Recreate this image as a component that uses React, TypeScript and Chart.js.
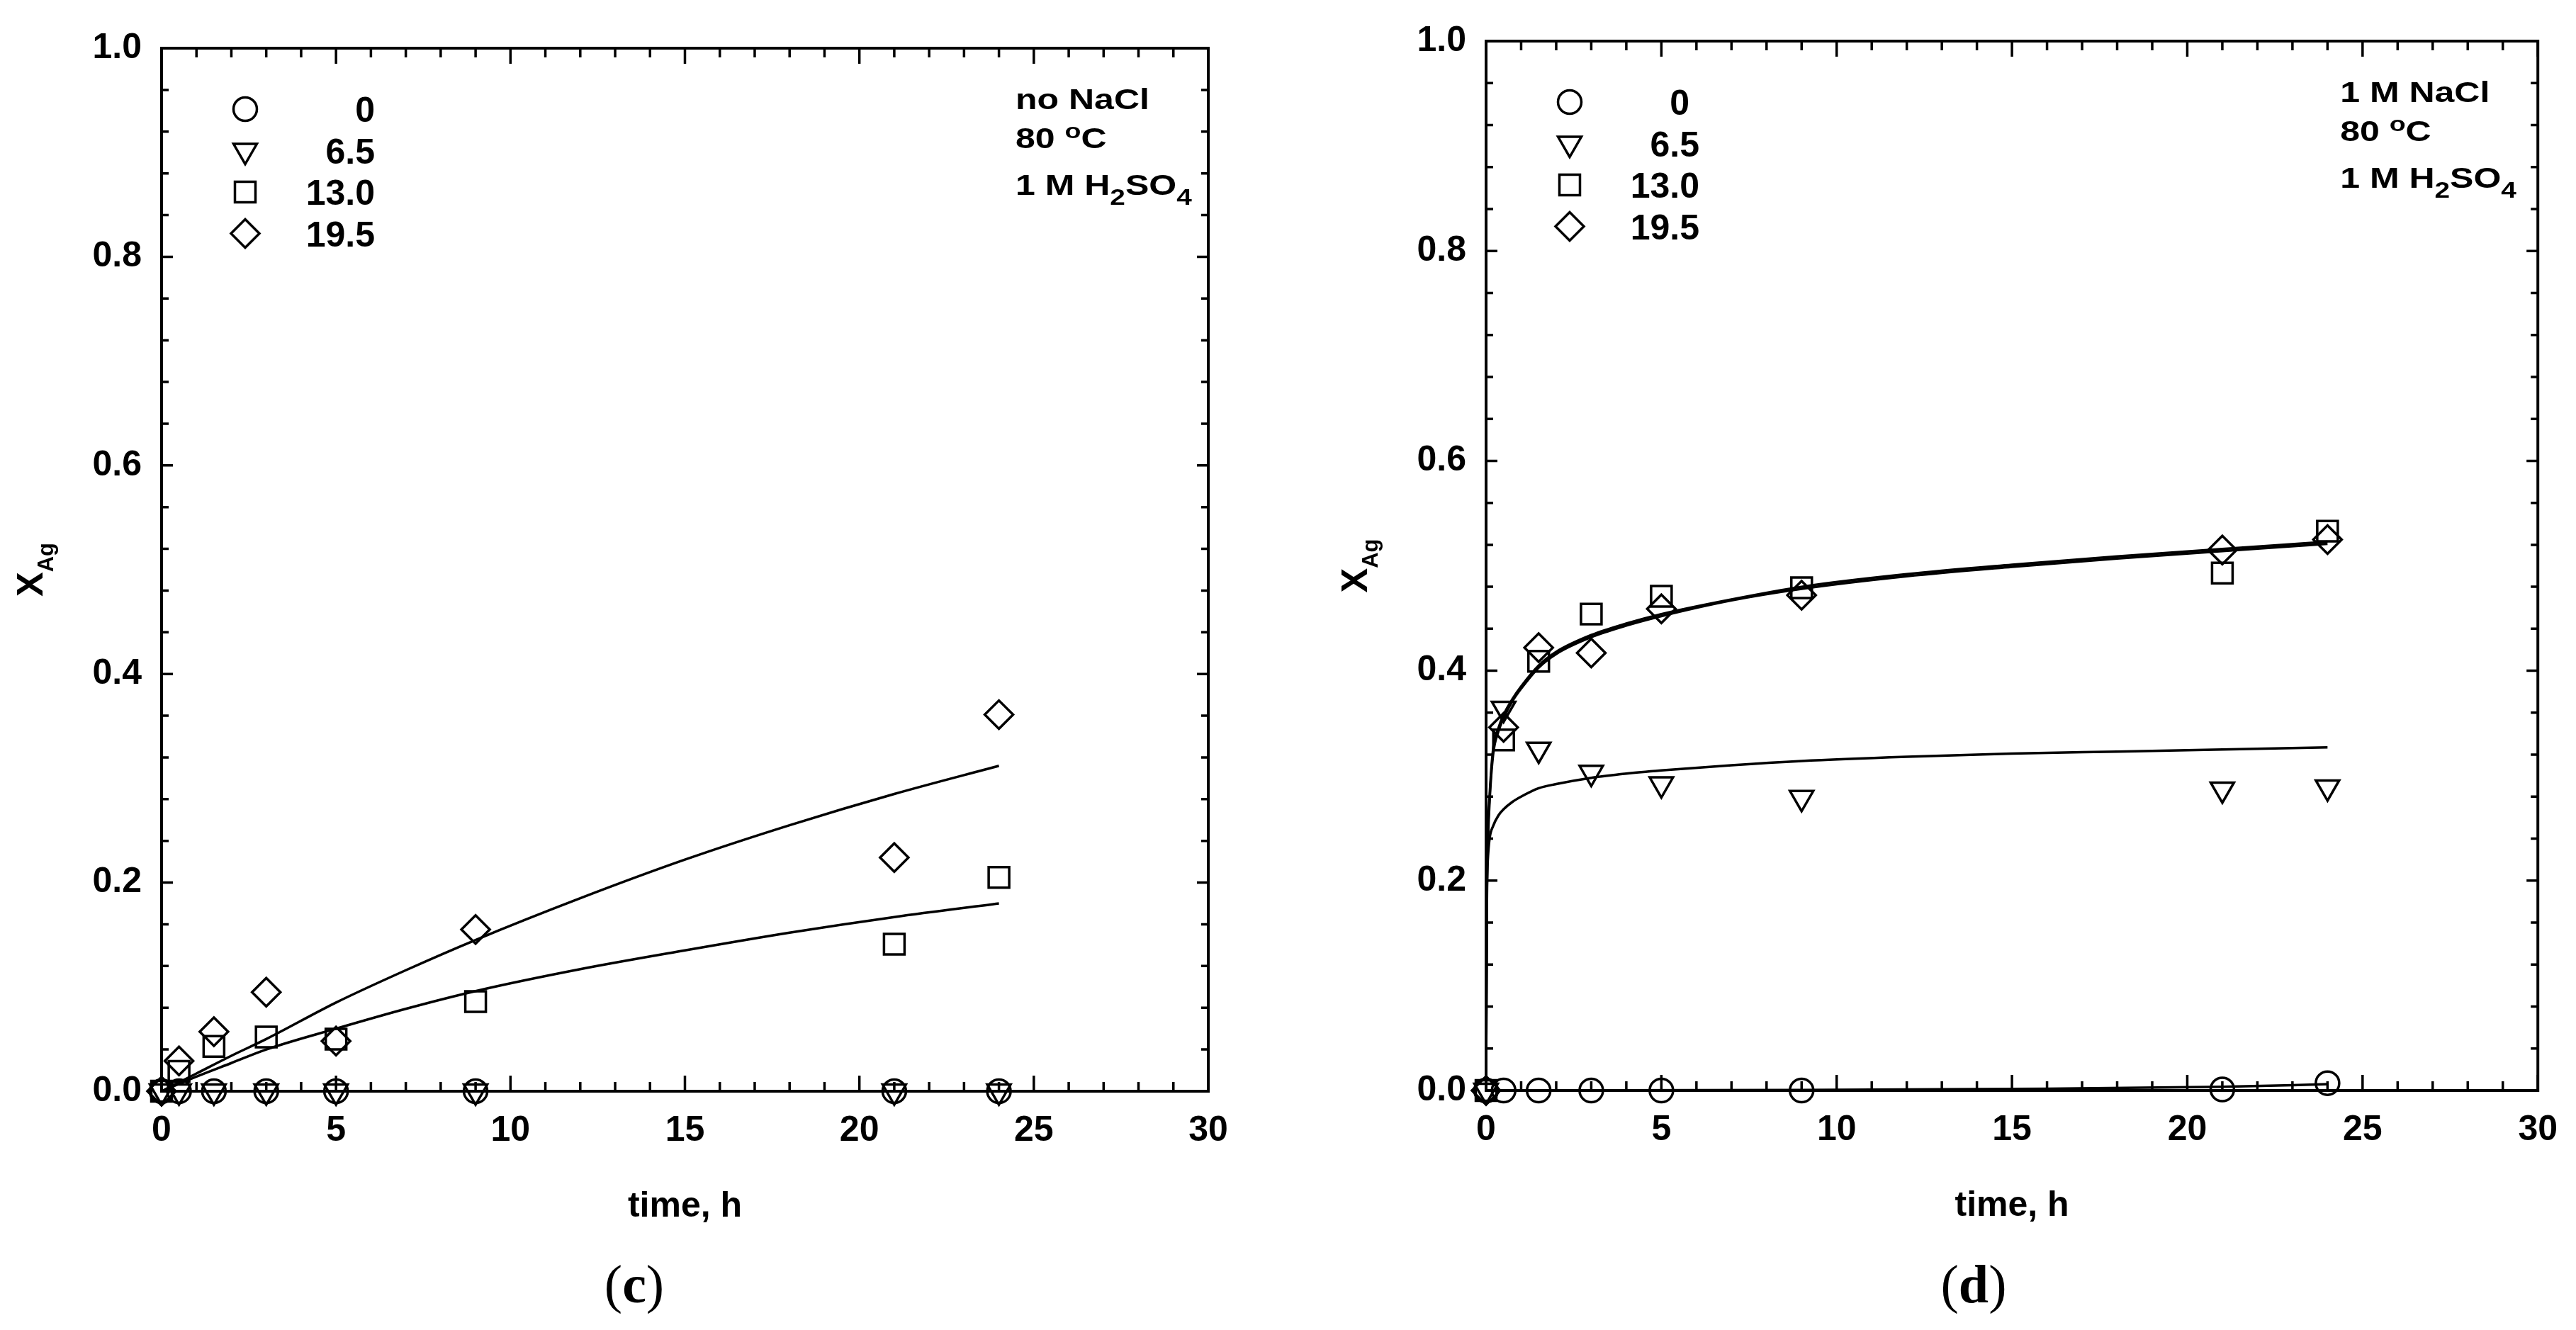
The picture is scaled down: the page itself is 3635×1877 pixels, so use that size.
import React, { useEffect, useRef } from 'react';
import { Chart, registerables } from 'chart.js';
import { drawPoint } from 'chart.js/helpers';

Chart.register(...registerables);

// ---------- data ----------
const sampleTimes = [0, 0.5, 1.5, 3, 5, 9, 21, 24];
const seriesLabels = ['0', '6.5', '13.0', '19.5'];
const xTickValues = [0, 5, 10, 15, 20, 25, 30];
const yTickValues = [0, 0.2, 0.4, 0.6, 0.8, 1.0];

// panel (c): no NaCl
const c_0 = [0, 0, 0, 0, 0, 0, 0, 0];
const c_65 = [0, 0, 0, 0, 0, 0, 0, 0];
const c_130 = [0, 0.019, 0.043, 0.052, 0.05, 0.086, 0.141, 0.205];
const c_195 = [0, 0.029, 0.057, 0.095, 0.048, 0.155, 0.224, 0.361];
const cFitTimes = [0, 1, 2, 3, 5, 7, 9, 12, 15, 18, 21, 24];
const cFit_195 = [0, 0.017, 0.034, 0.05, 0.085, 0.116, 0.145, 0.185, 0.222, 0.255, 0.285, 0.312];
const cFit_130 = [0, 0.014, 0.027, 0.04, 0.06, 0.079, 0.096, 0.117, 0.135, 0.152, 0.167, 0.18];

// panel (d): 1 M NaCl
const d_0 = [0, 0, 0, 0, 0, 0, 0.001, 0.007];
const d_65 = [0, 0.364, 0.325, 0.303, 0.292, 0.279, 0.287, 0.289];
const d_130 = [0, 0.334, 0.409, 0.454, 0.471, 0.479, 0.493, 0.533];
const d_195 = [0, 0.346, 0.422, 0.417, 0.459, 0.472, 0.515, 0.525];
const dFitTimes = [0, 0.02, 0.05, 0.1, 0.2, 0.35, 0.5, 0.75, 1, 1.5, 2, 3, 4, 5, 7, 9, 12, 15, 18, 21, 24];
const dFit_130 = [0, 0.17, 0.24, 0.28, 0.325, 0.345, 0.358, 0.373, 0.385, 0.405, 0.418, 0.434, 0.445, 0.454, 0.468, 0.48, 0.492, 0.501, 0.509, 0.516, 0.523];
const dFit_195 = [0, 0.16, 0.23, 0.275, 0.32, 0.342, 0.355, 0.371, 0.383, 0.403, 0.416, 0.432, 0.443, 0.452, 0.467, 0.478, 0.49, 0.499, 0.507, 0.514, 0.521];
const dFit_65 = [0, 0.18, 0.22, 0.24, 0.252, 0.262, 0.268, 0.275, 0.28, 0.288, 0.292, 0.298, 0.302, 0.305, 0.31, 0.314, 0.318, 0.321, 0.323, 0.325, 0.327];
const dFit0Times = [0, 9, 15, 21, 24];
const dFit_0 = [0, 0.0005, 0.0015, 0.0035, 0.006];

// text
const annotationC = [
  [['no NaCl', 'n']],
  [['80 ', 'n'], ['o', 'sup'], ['C', 'n']],
  [['1 M H', 'n'], ['2', 'sub'], ['SO', 'n'], ['4', 'sub']],
];
const annotationD = [
  [['1 M NaCl', 'n']],
  [['80 ', 'n'], ['o', 'sup'], ['C', 'n']],
  [['1 M H', 'n'], ['2', 'sub'], ['SO', 'n'], ['4', 'sub']],
];
const xTitle = 'time, h';
const yTitleMain = 'X';
const yTitleSub = 'Ag';

// ---------- styling ----------
const SANS = '"Liberation Sans", Arial, sans-serif';
const SERIF = '"Liberation Serif", "Times New Roman", serif';
const markerStyles = [
  { pointStyle: 'circle', radius: 16.5, rotation: 0 },
  { pointStyle: 'triangle', radius: 19, rotation: 180 },
  { pointStyle: 'rect', radius: 20.5, rotation: 0 },
  { pointStyle: 'rectRot', radius: 20, rotation: 0 },
];

const pts = (xs: number[], ys: number[]) => xs.map((x, i) => ({ x, y: ys[i] }));

function scatterSet(idx: number, values: number[]) {
  const m = markerStyles[idx];
  return {
    label: seriesLabels[idx],
    data: pts(sampleTimes, values),
    showLine: false,
    pointStyle: m.pointStyle,
    pointRadius: m.radius,
    pointHoverRadius: m.radius,
    pointRotation: m.rotation,
    pointBorderWidth: 3.5,
    pointHoverBorderWidth: 3.5,
    pointBorderColor: '#000',
    pointBackgroundColor: 'rgba(0,0,0,0)',
    clip: false as const,
  };
}

function fitSet(xs: number[], ys: number[]) {
  return {
    label: 'fit',
    data: pts(xs, ys),
    showLine: true,
    pointRadius: 0,
    pointHoverRadius: 0,
    borderWidth: 3.5,
    borderColor: '#000',
    backgroundColor: '#000',
    cubicInterpolationMode: 'monotone' as const,
    fill: false,
    clip: false as const,
  };
}

type PanelCfg = {
  canvasLeft: number;
  canvasWidth: number;
  plotLeft: number;
  plotRight: number;
  plotTop: number;
  plotBottom: number;
  datasets: any[];
  annotation: string[][][];
  annoOffset: number;
  caption: string;
  captionX: number;
  legendLabels: string[];
};

const H = 1877;

function drawSegments(ctx: CanvasRenderingContext2D, segs: string[][], x: number, y: number) {
  ctx.save();
  ctx.translate(x, y);
  ctx.scale(1.25, 1);
  let cx = 0;
  for (const [t, mode] of segs) {
    if (mode === 'n') {
      ctx.font = `bold 40px ${SANS}`;
      ctx.fillText(t, cx, 0);
    } else if (mode === 'sub') {
      ctx.font = `bold 31px ${SANS}`;
      ctx.fillText(t, cx, 14);
    } else {
      ctx.font = `bold 30px ${SANS}`;
      ctx.fillText(t, cx, -14);
    }
    cx += ctx.measureText(t).width;
  }
  ctx.restore();
}

function makePlugin(cfg: PanelCfg) {
  return {
    id: 'decor',
    beforeDatasetsDraw(chart: any) {
      const { ctx, chartArea: a, scales } = chart;
      const x = scales.x;
      const y = scales.y;
      ctx.save();
      ctx.strokeStyle = '#000';
      ctx.lineWidth = 3.5;
      ctx.lineCap = 'butt';
      for (let i = 0; i <= 30; i++) {
        const px = x.getPixelForValue(i);
        const len = i % 5 === 0 ? 22 : 13;
        ctx.beginPath();
        ctx.moveTo(px, a.bottom);
        ctx.lineTo(px, a.bottom - len);
        ctx.moveTo(px, a.top);
        ctx.lineTo(px, a.top + len);
        ctx.stroke();
      }
      for (let j = 0; j <= 25; j++) {
        const py = y.getPixelForValue(j * 0.04);
        const len = j % 5 === 0 ? 16 : 10;
        ctx.beginPath();
        ctx.moveTo(a.left, py);
        ctx.lineTo(a.left + len, py);
        ctx.moveTo(a.right, py);
        ctx.lineTo(a.right - len, py);
        ctx.stroke();
      }
      ctx.lineWidth = 4;
      ctx.strokeRect(a.left, a.top, a.right - a.left, a.bottom - a.top);
      ctx.restore();
    },
    afterDraw(chart: any) {
      const { ctx, chartArea: a } = chart;
      ctx.save();
      ctx.fillStyle = '#000';
      ctx.strokeStyle = '#000';

      // legend
      for (let i = 0; i < 4; i++) {
        const m = markerStyles[i];
        const ly = a.top + 86 + i * 58.5;
        ctx.save();
        ctx.lineWidth = 3.5;
        ctx.fillStyle = 'rgba(0,0,0,0)';
        drawPoint(ctx, { pointStyle: m.pointStyle, radius: m.radius, rotation: m.rotation, borderWidth: 3.5 } as any, a.left + 118, ly);
        ctx.restore();
        ctx.font = `bold 50px ${SANS}`;
        ctx.textAlign = 'right';
        ctx.textBaseline = 'alphabetic';
        ctx.fillText(cfg.legendLabels[i], a.left + 301, ly + 18);
      }

      // annotation
      ctx.textAlign = 'left';
      ctx.textBaseline = 'alphabetic';
      const baselines = [86, 141, 207];
      cfg.annotation.forEach((segs, k) => {
        drawSegments(ctx, segs, a.right - cfg.annoOffset, a.top + baselines[k]);
      });

      // x title
      ctx.font = `bold 50px ${SANS}`;
      ctx.textAlign = 'center';
      ctx.fillText(xTitle, (a.left + a.right) / 2, a.bottom + 177);

      // y title (rotated, with subscript)
      ctx.save();
      ctx.translate(a.left - 168, (a.top + a.bottom) / 2);
      ctx.rotate(-Math.PI / 2);
      ctx.textAlign = 'left';
      ctx.font = `bold 52px ${SANS}`;
      const w1 = ctx.measureText(yTitleMain).width;
      ctx.font = `bold 31px ${SANS}`;
      const w2 = ctx.measureText(yTitleSub).width;
      const start = -(w1 + w2) / 2;
      ctx.font = `bold 52px ${SANS}`;
      ctx.fillText(yTitleMain, start, 0);
      ctx.font = `bold 31px ${SANS}`;
      ctx.fillText(yTitleSub, start + w1, 15);
      ctx.restore();

      // caption "(c)" / "(d)"
      ctx.textAlign = 'left';
      const reg = `76px ${SERIF}`;
      const bold = `bold 76px ${SERIF}`;
      ctx.font = reg;
      const wl = ctx.measureText('(').width;
      const wr = ctx.measureText(')').width;
      ctx.font = bold;
      const wc = ctx.measureText(cfg.caption).width;
      let cx = cfg.captionX - (wl + wc + wr) / 2;
      const cy = 1838;
      ctx.font = reg;
      ctx.fillText('(', cx, cy);
      cx += wl;
      ctx.font = bold;
      ctx.fillText(cfg.caption, cx, cy);
      cx += wc;
      ctx.font = reg;
      ctx.fillText(')', cx, cy);

      ctx.restore();
    },
  };
}

function Panel({ cfg }: { cfg: PanelCfg }) {
  const ref = useRef<HTMLCanvasElement | null>(null);
  useEffect(() => {
    const canvas = ref.current!;
    const xAxisH = 120;
    const chart = new Chart(canvas, {
      type: 'scatter',
      data: { datasets: cfg.datasets },
      options: {
        animation: false,
        responsive: false,
        devicePixelRatio: 1,
        events: [],
        layout: {
          padding: {
            left: 0,
            top: cfg.plotTop,
            right: cfg.canvasWidth - cfg.plotRight,
            bottom: H - cfg.plotBottom - xAxisH,
          },
        },
        plugins: {
          legend: { display: false },
          tooltip: { enabled: false },
          title: { display: false },
        },
        scales: {
          x: {
            type: 'linear',
            min: 0,
            max: 30,
            afterFit: (s: any) => {
              s.height = xAxisH;
            },
            afterBuildTicks: (s: any) => {
              s.ticks = xTickValues.map((v) => ({ value: v }));
            },
            ticks: {
              autoSkip: false,
              maxRotation: 0,
              padding: 26,
              color: '#000',
              font: { family: SANS, size: 50, weight: 'bold' },
              callback: (v: any) => String(v),
            },
            grid: { display: false, drawTicks: false },
            border: { display: false },
          },
          y: {
            type: 'linear',
            min: 0,
            max: 1,
            afterFit: (s: any) => {
              s.width = cfg.plotLeft;
            },
            afterBuildTicks: (s: any) => {
              s.ticks = yTickValues.map((v) => ({ value: v }));
            },
            ticks: {
              autoSkip: false,
              padding: 28,
              color: '#000',
              font: { family: SANS, size: 50, weight: 'bold' },
              callback: (v: any) => Number(v).toFixed(1),
            },
            grid: { display: false, drawTicks: false },
            border: { display: false },
          },
        },
      } as any,
      plugins: [makePlugin(cfg)],
    });
    return () => chart.destroy();
  }, []);
  return (
    <canvas
      ref={ref}
      width={cfg.canvasWidth}
      height={H}
      style={{ position: 'absolute', left: cfg.canvasLeft, top: 0, width: cfg.canvasWidth, height: H }}
    />
  );
}

const panelC: PanelCfg = {
  canvasLeft: 0,
  canvasWidth: 1818,
  plotLeft: 228,
  plotRight: 1705,
  plotTop: 68,
  plotBottom: 1540,
  datasets: [
    fitSet(cFitTimes, cFit_195),
    fitSet(cFitTimes, cFit_130),
    scatterSet(0, c_0),
    scatterSet(1, c_65),
    scatterSet(2, c_130),
    scatterSet(3, c_195),
  ],
  annotation: annotationC,
  annoOffset: 272,
  caption: 'c',
  captionX: 895,
  legendLabels: seriesLabels,
};

const panelD: PanelCfg = {
  canvasLeft: 1818,
  canvasWidth: 1817,
  plotLeft: 279,
  plotRight: 1772,
  plotTop: 50,
  plotBottom: 1539,
  datasets: [
    fitSet(dFitTimes, dFit_130),
    fitSet(dFitTimes, dFit_195),
    fitSet(dFitTimes, dFit_65),
    fitSet(dFit0Times, dFit_0),
    scatterSet(0, d_0),
    scatterSet(1, d_65),
    scatterSet(2, d_130),
    scatterSet(3, d_195),
  ],
  annotation: annotationD,
  annoOffset: 279,
  caption: 'd',
  captionX: 2785 - 1818,
  legendLabels: ['0 ', '6.5', '13.0', '19.5'],
};

export default function App() {
  return (
    <div style={{ position: 'absolute', left: 0, top: 0, width: 3635, height: H, background: '#fff' }}>
      <Panel cfg={panelC} />
      <Panel cfg={panelD} />
    </div>
  );
}
